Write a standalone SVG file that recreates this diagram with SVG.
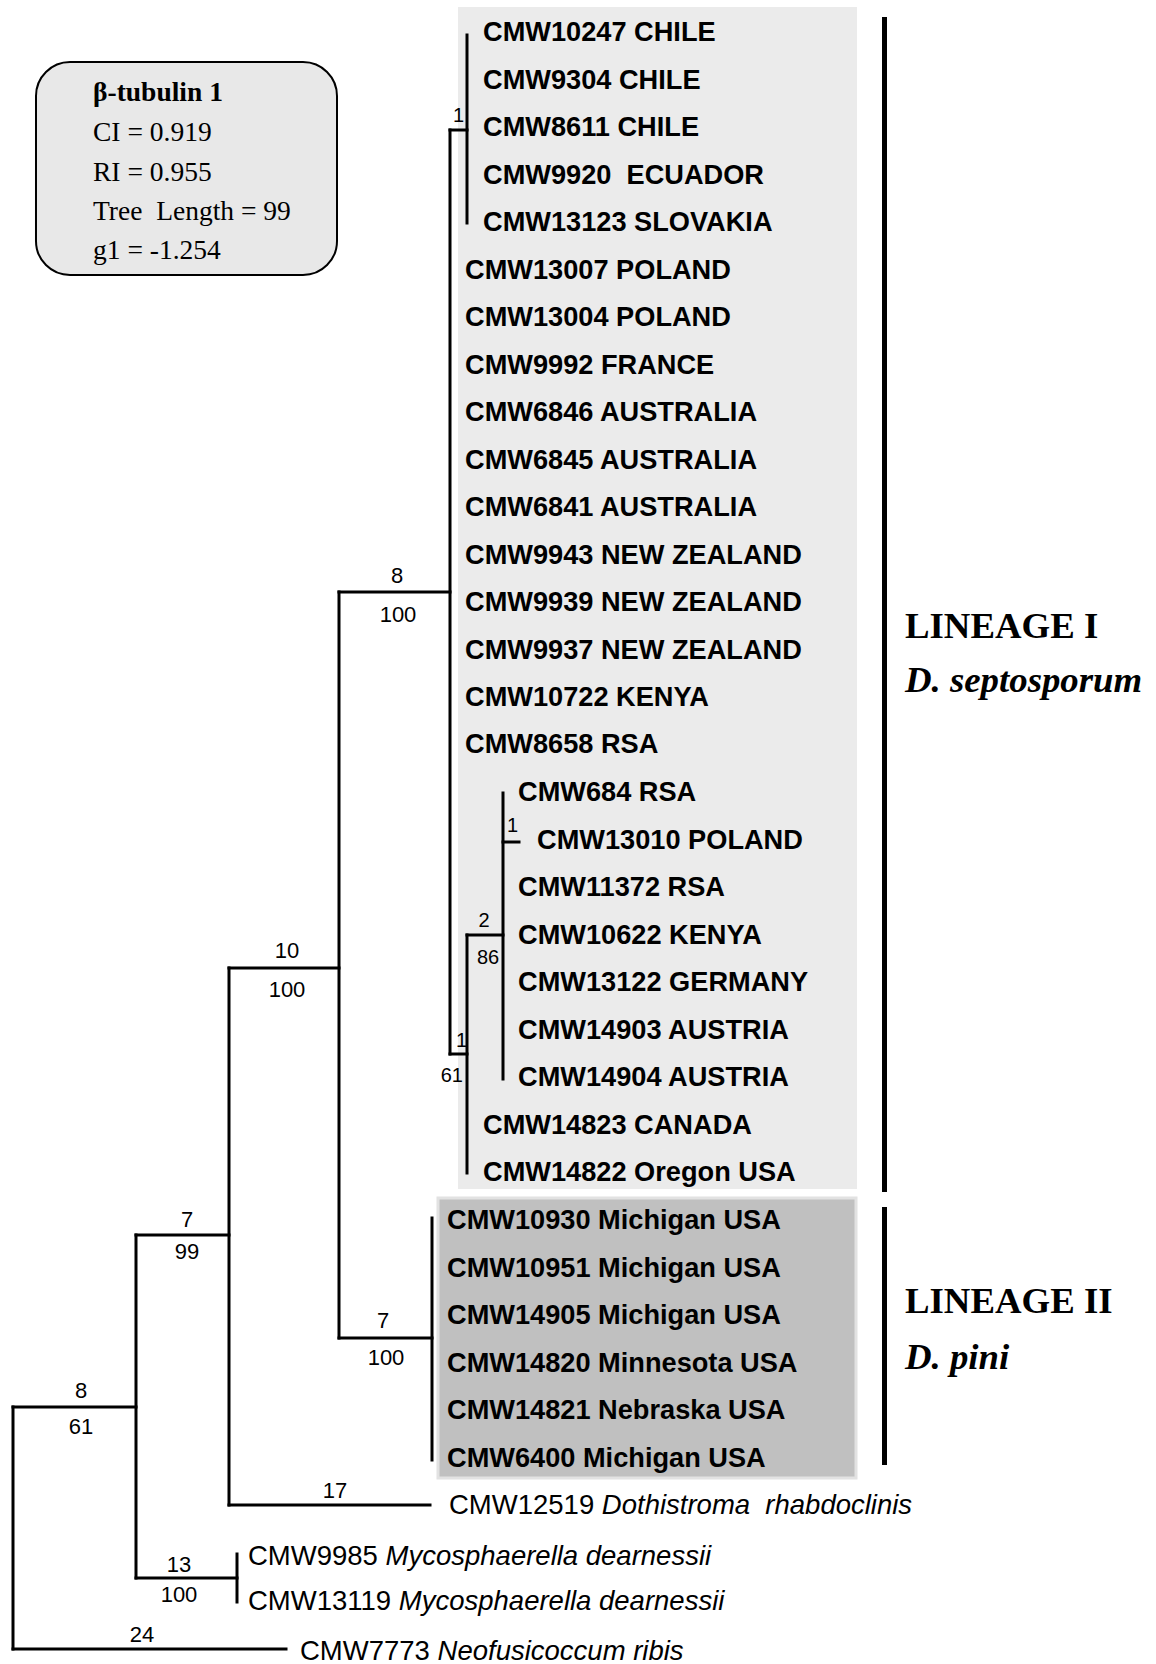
<svg xmlns="http://www.w3.org/2000/svg" width="1156" height="1664" viewBox="0 0 1156 1664">
<style>
.bg{fill:#ffffff}
.tree line{stroke:#000;stroke-width:3;stroke-linecap:square}
.thin{stroke-width:2.5}
.lab{font-family:"Liberation Sans",Arial,sans-serif;font-weight:bold;font-size:27.2px;fill:#000}
.out{font-family:"Liberation Sans",Arial,sans-serif;font-size:27.5px;fill:#000}
.num{font-family:"Liberation Sans",Arial,sans-serif;font-size:22px;fill:#000;text-anchor:middle}
.sm{font-family:"Liberation Sans",Arial,sans-serif;font-size:20px;fill:#000}
.leg{font-family:"Liberation Serif","Times New Roman",serif;font-size:27.5px;fill:#000}
.lin{font-family:"Liberation Serif","Times New Roman",serif;font-weight:bold;font-size:36.8px;fill:#000}
.bar{stroke:#000;stroke-width:5}
</style>
<rect class="bg" x="0" y="0" width="1156" height="1664"/>

<g id="legend">
<rect x="36" y="62" width="301" height="213" rx="34" ry="34" fill="#e8e8e8" stroke="#000" stroke-width="2"/>
<text class="leg" x="93" y="101" font-weight="bold">β-tubulin 1</text>
<text class="leg" x="93" y="141">CI = 0.919</text>
<text class="leg" x="93" y="181">RI = 0.955</text>
<text class="leg" x="93" y="220" xml:space="preserve">Tree  Length = 99</text>
<text class="leg" x="93" y="259">g1 = -1.254</text>
</g>

<g id="lineage1-box">
<rect x="458" y="7" width="399" height="1182" fill="#ebebeb"/>
</g>
<g id="lineage2-box">
<rect x="438" y="1198" width="418" height="280" fill="#c0c0c0" stroke="#e2e2e2" stroke-width="3"/>
</g>

<g id="connectors" class="tree">
<!-- root -->
<line x1="13" y1="1407" x2="13" y2="1649"/>
<line x1="13" y1="1407" x2="136" y2="1407"/>
<line x1="13" y1="1649" x2="286" y2="1649"/>
<!-- node 136 -->
<line x1="136" y1="1235" x2="136" y2="1578"/>
<line x1="136" y1="1235" x2="229" y2="1235"/>
<line x1="136" y1="1578" x2="237" y2="1578"/>
<line x1="237" y1="1554" x2="237" y2="1602"/>
<!-- node 229 -->
<line x1="229" y1="968" x2="229" y2="1505"/>
<line x1="229" y1="968" x2="339" y2="968"/>
<line x1="229" y1="1505" x2="430" y2="1505"/>
<!-- node 339 -->
<line x1="339" y1="592" x2="339" y2="1338"/>
<line x1="339" y1="592" x2="450" y2="592"/>
<line x1="339" y1="1338" x2="432" y2="1338"/>
<line x1="432" y1="1218" x2="432" y2="1460"/>
<!-- lineage I -->
<line x1="450" y1="130" x2="450" y2="1054"/>
<line class="thin" x1="450" y1="130" x2="467" y2="130"/>
<line class="thin" x1="467" y1="35" x2="467" y2="223"/>
<line class="thin" x1="450" y1="1054" x2="467" y2="1054"/>
<line class="thin" x1="467" y1="935" x2="467" y2="1173"/>
<line class="thin" x1="467" y1="935" x2="503" y2="935"/>
<line class="thin" x1="503" y1="793" x2="503" y2="1079"/>
<line class="thin" x1="503" y1="842" x2="519" y2="842"/>
</g>

<g id="brackets">
<line class="bar" x1="884.5" y1="17" x2="884.5" y2="1192"/>
<line class="bar" x1="884.5" y1="1207" x2="884.5" y2="1465"/>
</g>

<g id="branch-labels">
<text class="sm" x="453" y="122">1</text>
<text class="num" x="397" y="583">8</text>
<text class="num" x="398" y="622">100</text>
<text class="num" x="287" y="958">10</text>
<text class="num" x="287" y="997">100</text>
<text class="num" x="383" y="1328">7</text>
<text class="num" x="386" y="1365">100</text>
<text class="num" x="187" y="1227">7</text>
<text class="num" x="187" y="1259">99</text>
<text class="num" x="81" y="1398">8</text>
<text class="num" x="81" y="1434">61</text>
<text class="num" x="335" y="1498">17</text>
<text class="num" x="179" y="1572">13</text>
<text class="num" x="179" y="1602">100</text>
<text class="num" x="142" y="1642">24</text>
<text class="sm" x="484" y="927" text-anchor="middle">2</text>
<text class="sm" x="488" y="964" text-anchor="middle">86</text>
<text class="sm" x="456" y="1047">1</text>
<text class="sm" x="463" y="1082" text-anchor="end">61</text>
<text class="sm" x="507" y="832">1</text>
</g>

<g id="taxa-lineage1" class="lab">
<text x="483" y="41">CMW10247 CHILE</text>
<text x="483" y="89">CMW9304 CHILE</text>
<text x="483" y="136">CMW8611 CHILE</text>
<text x="483" y="184" xml:space="preserve">CMW9920  ECUADOR</text>
<text x="483" y="231">CMW13123 SLOVAKIA</text>
<text x="465" y="279">CMW13007 POLAND</text>
<text x="465" y="326">CMW13004 POLAND</text>
<text x="465" y="374">CMW9992 FRANCE</text>
<text x="465" y="421">CMW6846 AUSTRALIA</text>
<text x="465" y="469">CMW6845 AUSTRALIA</text>
<text x="465" y="516">CMW6841 AUSTRALIA</text>
<text x="465" y="564">CMW9943 NEW ZEALAND</text>
<text x="465" y="611">CMW9939 NEW ZEALAND</text>
<text x="465" y="659">CMW9937 NEW ZEALAND</text>
<text x="465" y="706">CMW10722 KENYA</text>
<text x="465" y="753">CMW8658 RSA</text>
<text x="518" y="801">CMW684 RSA</text>
<text x="537" y="849">CMW13010 POLAND</text>
<text x="518" y="896">CMW11372 RSA</text>
<text x="518" y="944">CMW10622 KENYA</text>
<text x="518" y="991">CMW13122 GERMANY</text>
<text x="518" y="1039">CMW14903 AUSTRIA</text>
<text x="518" y="1086">CMW14904 AUSTRIA</text>
<text x="483" y="1134">CMW14823 CANADA</text>
<text x="483" y="1181">CMW14822 Oregon USA</text>
</g>

<g id="taxa-lineage2" class="lab">
<text x="447" y="1229">CMW10930 Michigan USA</text>
<text x="447" y="1276.5">CMW10951 Michigan USA</text>
<text x="447" y="1324">CMW14905 Michigan USA</text>
<text x="447" y="1371.5">CMW14820 Minnesota USA</text>
<text x="447" y="1419">CMW14821 Nebraska USA</text>
<text x="447" y="1466.5">CMW6400 Michigan USA</text>
</g>

<g id="taxa-outgroups" class="out">
<text x="449" y="1514" xml:space="preserve">CMW12519 <tspan font-style="italic">Dothistroma  rhabdoclinis</tspan></text>
<text x="248" y="1565">CMW9985 <tspan font-style="italic">Mycosphaerella dearnessii</tspan></text>
<text x="248" y="1610">CMW13119 <tspan font-style="italic">Mycosphaerella dearnessii</tspan></text>
<text x="300" y="1660">CMW7773 <tspan font-style="italic">Neofusicoccum ribis</tspan></text>
</g>

<g id="lineage-labels" class="lin">
<text x="905" y="638">LINEAGE I</text>
<text x="905" y="692" font-style="italic">D. septosporum</text>
<text x="905" y="1313">LINEAGE II</text>
<text x="905" y="1369" font-style="italic">D. pini</text>
</g>
</svg>
